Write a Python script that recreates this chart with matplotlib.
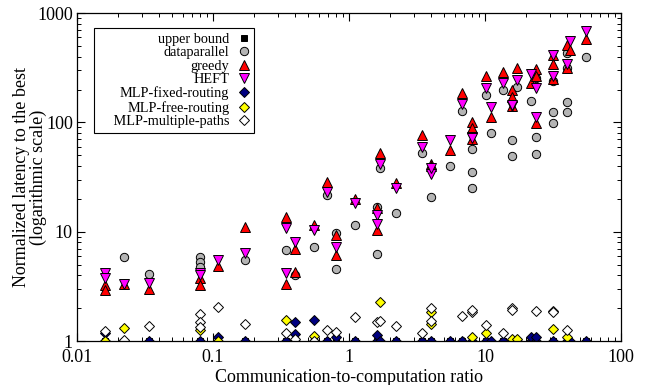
import matplotlib
matplotlib.use("Agg")
import matplotlib.pyplot as plt
from matplotlib.ticker import LogLocator, NullFormatter, FixedLocator, FixedFormatter

plt.rcParams['font.family'] = ['Liberation Serif', 'DejaVu Serif']

# CCR columns where upper bound is drawn (hidden under the MLP points at 1)
ub_x = [0.016, 0.022, 0.034, 0.080, 0.109, 0.172, 0.344, 0.40, 0.55, 0.69, 0.80,
        1.1, 1.6, 2.2, 3.44, 4.0, 5.5, 6.8, 8.0, 10.2, 13.5, 15.8, 21.8, 31.6, 40, 55]
ub_y = [1.0] * len(ub_x)

dp_x = [0.022, 0.034, 0.080, 0.080, 0.080, 0.172, 0.344, 0.40, 0.55, 0.69, 0.80, 0.80,
        1.1, 1.6, 1.6, 1.7, 2.2, 3.44, 4.0, 5.5, 6.8, 8.0, 8.0, 8.0, 10.2, 11, 13.5,
        15.8, 15.8, 17.2, 21.8, 23.5, 23.5, 23.5, 31.6, 31.6, 31.6, 40, 40, 40, 40, 55]
dp_y = [5.9, 4.1, 5.9, 5.3, 4.8, 5.5, 6.8, 4.0, 7.2, 21.7, 9.7, 4.6,
        11.5, 16.8, 6.2, 38, 15, 53, 20.7, 40, 127, 57, 35, 25, 178, 80, 198,
        69, 49, 210, 158, 255, 74, 51, 240, 124, 98, 430, 315, 155, 124, 400]

greedy_x = [0.016, 0.016, 0.022, 0.034, 0.080, 0.080, 0.109, 0.172, 0.344, 0.344, 0.40,
            0.40, 0.55, 0.69, 0.80, 0.80, 1.1, 1.6, 1.6, 1.7, 2.2, 3.44, 4.0, 4.0,
            5.5, 6.8, 8.0, 8.0, 8.0, 10.2, 11, 13.5, 15.8, 15.8, 15.8, 17.2, 21.8,
            23.5, 23.5, 23.5, 31.6, 31.6, 31.6, 40, 40, 42, 55]
greedy_y = [3.25, 2.93, 3.3, 2.99, 3.8, 3.25, 4.86, 11, 13.6, 3.3, 6.95,
            4.3, 11.5, 28.5, 9.3, 6.1, 20, 16.5, 10.4, 53, 28, 77, 42, 40,
            56, 186, 100, 89, 70, 265, 113, 290, 200, 170, 140, 315, 230,
            308, 265, 98, 415, 345, 250, 510, 315, 460, 580]

heft_x = [0.016, 0.016, 0.022, 0.034, 0.080, 0.080, 0.109, 0.172, 0.344, 0.344, 0.40,
          0.55, 0.69, 0.80, 1.1, 1.6, 1.6, 1.7, 2.2, 3.44, 4.0, 4.0, 5.5, 6.8,
          8.0, 8.0, 10.2, 11, 13.5, 15.8, 15.8, 17.2, 21.8, 23.5, 23.5, 31.6,
          31.6, 40, 42, 55]
heft_y = [4.2, 3.77, 3.3, 3.4, 4.2, 4.0, 5.5, 6.4, 10.8, 4.2, 8.05,
          10.4, 23, 7.2, 18.3, 14.2, 11.8, 42, 25, 60, 34, 38, 69, 147,
          74, 72, 207, 138, 230, 140, 145, 245, 277, 207, 112, 415,
          265, 345, 550, 686]

fixed_x = [0.016, 0.016, 0.022, 0.034, 0.080, 0.109, 0.172, 0.344, 0.40, 0.40, 0.40,
           0.55, 0.55, 0.69, 0.80, 1.1, 1.6, 1.6, 1.7, 2.2, 3.44, 4.0, 5.5, 6.8,
           8.0, 10.2, 11, 13.5, 15.8, 17.2, 21.8, 21.8, 23.5, 23.5, 31.6, 40, 42, 55]
fixed_y = [1.0, 1.18, 1.0, 1.0, 1.0, 1.09, 1.0, 1.0, 1.0, 1.16, 1.49,
           1.0, 1.56, 1.0, 1.1, 1.0, 1.0, 1.13, 1.0, 1.0, 1.0, 1.0, 1.0, 1.0,
           1.0, 1.0, 1.0, 1.0, 1.0, 1.0, 1.0, 1.09, 1.0, 1.09, 1.0, 1.0, 1.0, 1.0]

free_x = [0.016, 0.022, 0.080, 0.109, 0.344, 0.55, 1.7, 4.0, 4.0, 8.0, 10.2,
          15.8, 17.2, 31.6, 40]
free_y = [1.0, 1.31, 1.26, 1.0, 1.56, 1.11, 2.27, 1.85, 1.43, 1.08, 1.18,
          1.05, 1.04, 1.29, 1.09]

multi_x = [0.016, 0.022, 0.034, 0.080, 0.080, 0.080, 0.109, 0.172, 0.344, 0.40, 0.55,
           0.69, 0.80, 1.1, 1.6, 1.7, 2.2, 3.44, 4.0, 4.0, 6.8, 8.0, 8.0, 10.2,
           13.5, 15.8, 15.8, 23.5, 31.6, 31.6, 40]
multi_y = [1.23, 1.03, 1.37, 1.77, 1.5, 1.35, 2.05, 1.43, 1.18, 1.05, 1.0,
           1.26, 1.2, 1.66, 1.49, 1.52, 1.37, 1.18, 2.0, 1.52, 1.69, 1.85, 1.92, 1.4,
           1.18, 2.0, 1.92, 1.9, 1.9, 1.85, 1.26]

fig = plt.figure(figsize=(6.47, 3.85), dpi=100)
ax = fig.add_axes([0.119, 0.114, 0.841, 0.852])

ec = dict(markeredgecolor='black', markeredgewidth=0.7, linestyle='none')
ax.plot(ub_x, ub_y, 's', color='black', markersize=4.5, label='upper bound', **ec)
ax.plot(dp_x, dp_y, 'o', color='#b4b4b4', markersize=6, label='dataparallel', **ec)
ax.plot(greedy_x, greedy_y, '^', color='#ff0000', markersize=6.5, label='greedy', **ec)
ax.plot(heft_x, heft_y, 'v', color='#ff00ff', markersize=6.5, label='HEFT', **ec)
ax.plot(fixed_x, fixed_y, 'D', color='#000080', markersize=4.8, label='MLP-fixed-routing', **ec)
ax.plot(free_x, free_y, 'D', color='#ffff00', markersize=4.8, label='MLP-free-routing', **ec)
ax.plot(multi_x, multi_y, 'D', color='white', markersize=4.8,
        label='    MLP-multiple-paths', **ec)

ax.set_xscale('log')
ax.set_yscale('log')
ax.set_xlim(0.01, 100)
ax.set_ylim(1, 1000)

ax.xaxis.set_major_locator(FixedLocator([0.01, 0.1, 1, 10, 100]))
ax.xaxis.set_major_formatter(FixedFormatter(['0.01', '0.1', '1', '10', '100']))
ax.yaxis.set_major_locator(FixedLocator([1, 10, 100, 1000]))
ax.yaxis.set_major_formatter(FixedFormatter(['1', '10', '100', '1000']))
ax.xaxis.set_minor_locator(LogLocator(base=10, subs=range(2, 10)))
ax.yaxis.set_minor_locator(LogLocator(base=10, subs=range(2, 10)))
ax.xaxis.set_minor_formatter(NullFormatter())
ax.yaxis.set_minor_formatter(NullFormatter())
ax.tick_params(which='both', direction='in', top=True, right=True, labelsize=13)
ax.tick_params(axis='x', which='major', pad=6)
ax.tick_params(axis='y', which='major', pad=3)
ax.tick_params(which='major', length=6, width=0.8)
ax.tick_params(which='minor', length=3, width=0.7)
for s in ax.spines.values():
    s.set_linewidth(0.9)
for lab in ax.get_yticklabels():
    lab.set_va('center_baseline')

ax.set_xlabel('Communication-to-computation ratio', fontsize=13, labelpad=2)
ax.set_ylabel('Normalized latency to the best\n(logarithmic scale)', fontsize=13,
              linespacing=0.95)
ax.yaxis.set_label_coords(-0.055, 0.5)

leg = ax.legend(loc='upper left', bbox_to_anchor=(0.031, 0.955), borderaxespad=0,
                markerfirst=False, fontsize=10.3, labelspacing=0.03, handlelength=0.8,
                handletextpad=0.6, borderpad=0.35, fancybox=False, framealpha=1,
                edgecolor='black')
leg.get_frame().set_linewidth(0.8)
for t in leg.get_texts():
    t.set_ha('right')
leg._legend_box.align = 'right'

fig.savefig('out.png', dpi=100)
